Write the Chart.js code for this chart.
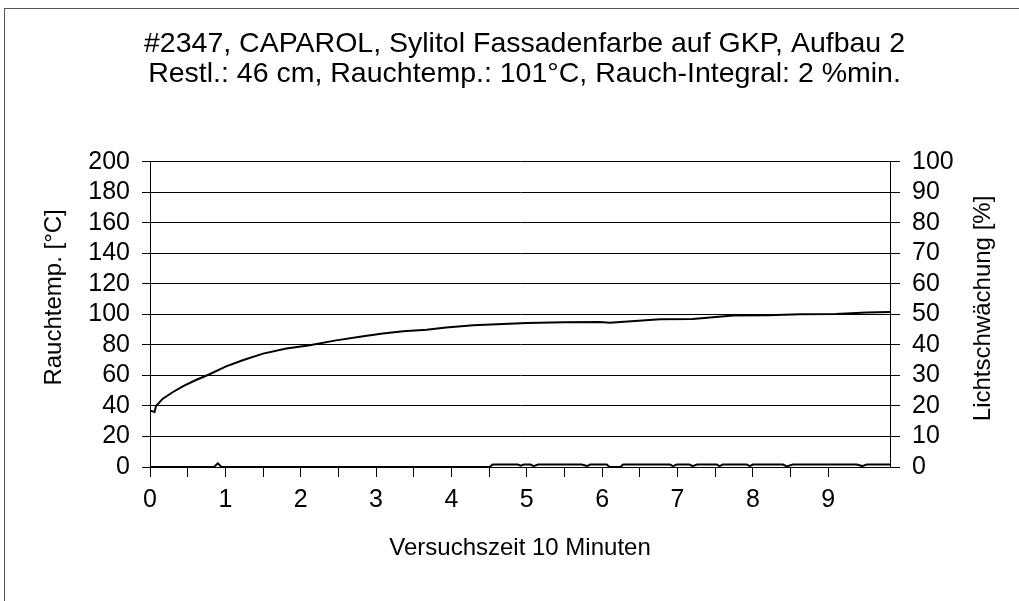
<!DOCTYPE html>
<html>
<head>
<meta charset="utf-8">
<script src="https://cdn.jsdelivr.net/npm/chart.js@4"></script>
<style>
  html, body { margin: 0; padding: 0; background: #fff; }
  #wrap { position: relative; width: 1019px; height: 601px; overflow: hidden; }
  #frame { position: absolute; left: 4px; top: 8px; width: 1100px; height: 700px;
           border-left: 1px solid #555; border-top: 1px solid #555; }
  canvas { position: absolute; left: 0; top: 0; }
</style>
</head>
<body>
<div id="wrap">
  <div id="frame"></div>
  <canvas id="myChart" width="1019" height="601"></canvas>
</div>
<script>
// Rauchtemperatur (linke Achse, °C) über Versuchszeit (min)
const tempTime  = [0, 0.06, 0.08, 0.17, 0.30, 0.44, 0.61, 0.79, 1.01, 1.23, 1.50, 1.81, 2.12, 2.47, 2.83, 3.09, 3.36, 3.67, 3.93, 4.29, 5.0, 5.5, 5.97, 6.1, 6.77, 7.2, 7.74, 8.2, 8.63, 9.1, 9.51, 9.82];
const tempValue = [37, 36, 40, 44.8, 49, 53, 57, 60.8, 66, 70, 74.3, 77.6, 79.8, 83, 85.7, 87.5, 89, 90, 91.4, 92.9, 94.4, 94.8, 95, 94.6, 96.9, 97, 99.3, 99.5, 100.1, 100.3, 101.2, 101.6];

// Lichtschwächung (rechte Achse, %)
const lightTime  = [0, 0.85, 0.9, 0.95, 4.5, 4.55, 4.88, 4.92, 4.96, 5.05, 5.09, 5.15, 5.73, 5.8, 5.84, 6.06, 6.1, 6.24, 6.28, 6.9, 6.94, 6.99, 7.16, 7.2, 7.26, 7.52, 7.56, 7.6, 7.92, 7.96, 8.0, 8.4, 8.45, 8.53, 9.38, 9.45, 9.51, 9.82];
const lightValue = [0, 0, 1.2, 0, 0, 0.8, 0.8, 0.4, 0.8, 0.8, 0.3, 0.8, 0.8, 0.3, 0.8, 0.8, 0, 0, 0.8, 0.8, 0.3, 0.8, 0.8, 0.3, 0.8, 0.8, 0.3, 0.8, 0.8, 0.3, 0.8, 0.8, 0.2, 0.8, 0.8, 0.3, 0.8, 0.8];

const titleLines = [
  '#2347, CAPAROL, Sylitol Fassadenfarbe auf GKP, Aufbau 2',
  'Restl.: 46 cm, Rauchtemp.: 101°C, Rauch-Integral: 2 %min.'
];
const xTitle = 'Versuchszeit 10 Minuten';
const yTitle = 'Rauchtemp. [°C]';
const y1Title = 'Lichtschwächung [%]';

Chart.defaults.font.family = '"Liberation Sans", Arial, sans-serif';
Chart.defaults.color = '#000';

// beide Achsentitel senkrecht, von unten nach oben gelesen wie im Original
const sideTitles = {
  id: 'sideTitles',
  afterDraw(chart) {
    const ctx = chart.ctx;
    const left = chart.scales.y, right = chart.scales.y1;
    const draw = (text, x, y) => {
      ctx.save();
      ctx.font = '24px "Liberation Sans", Arial, sans-serif';
      ctx.fillStyle = '#000';
      ctx.textAlign = 'center';
      ctx.textBaseline = 'middle';
      ctx.translate(x, y);
      ctx.rotate(-Math.PI / 2);
      ctx.fillText(text, 0, 0);
      ctx.restore();
    };
    draw(yTitle, left.left + 24, (left.top + left.bottom) / 2 - 17);
    draw(y1Title, right.right - 36, (right.top + right.bottom) / 2 - 6);
  }
};

const ctx = document.getElementById('myChart').getContext('2d');
new Chart(ctx, {
  type: 'line',
  data: {
    datasets: [
      {
        label: 'Rauchtemp.',
        data: tempTime.map((t, i) => ({ x: t, y: tempValue[i] })),
        yAxisID: 'y',
        borderColor: '#000',
        borderWidth: 2,
        pointRadius: 0,
        tension: 0
      },
      {
        label: 'Lichtschwächung',
        data: lightTime.map((t, i) => ({ x: t, y: lightValue[i] })),
        yAxisID: 'y1',
        borderColor: '#000',
        borderWidth: 2,
        pointRadius: 0,
        tension: 0
      }
    ]
  },
  options: {
    responsive: false,
    animation: false,
    layout: { padding: { left: 30, right: 0, top: 0, bottom: 0 } },
    plugins: {
      legend: { display: false },
      tooltip: { enabled: false },
      title: {
        display: true,
        text: titleLines,
        color: '#000',
        font: { size: 28.5, weight: 'normal', lineHeight: 1.05 },
        padding: { top: 29, bottom: 73 }
      }
    },
    scales: {
      x: {
        type: 'linear',
        min: 0,
        max: 9.82,
        afterBuildTicks: s => {
          s.ticks = s.ticks.filter(t => Math.abs(t.value * 2 - Math.round(t.value * 2)) < 1e-6);
        },
        afterFit: s => { s.height = 134; },
        ticks: {
          stepSize: 0.5,
          autoSkip: false,
          maxRotation: 0,
          font: { size: 25 },
          padding: 8,
          callback: v => Math.abs(v - Math.round(v)) < 1e-6 ? Math.round(v) : ''
        },
        grid: { drawOnChartArea: false, tickLength: 10, color: '#000' },
        border: { color: '#000' },
        title: { display: true, text: xTitle, font: { size: 24 }, padding: { top: 0, bottom: 38 } }
      },
      y: {
        position: 'left',
        min: 0,
        max: 200,
        afterFit: s => { s.width = 120; },
        ticks: { stepSize: 20, autoSkip: false, font: { size: 25 }, padding: 12 },
        grid: { color: '#000', tickLength: 8 },
        border: { color: '#000' }
      },
      y1: {
        position: 'right',
        min: 0,
        max: 100,
        afterFit: s => { s.width = 129; },
        ticks: { stepSize: 10, autoSkip: false, font: { size: 25 }, padding: 12 },
        grid: { drawOnChartArea: false, tickLength: 10, color: '#000' },
        border: { color: '#000' }
      }
    }
  },
  plugins: [sideTitles]
});
</script>
</body>
</html>
